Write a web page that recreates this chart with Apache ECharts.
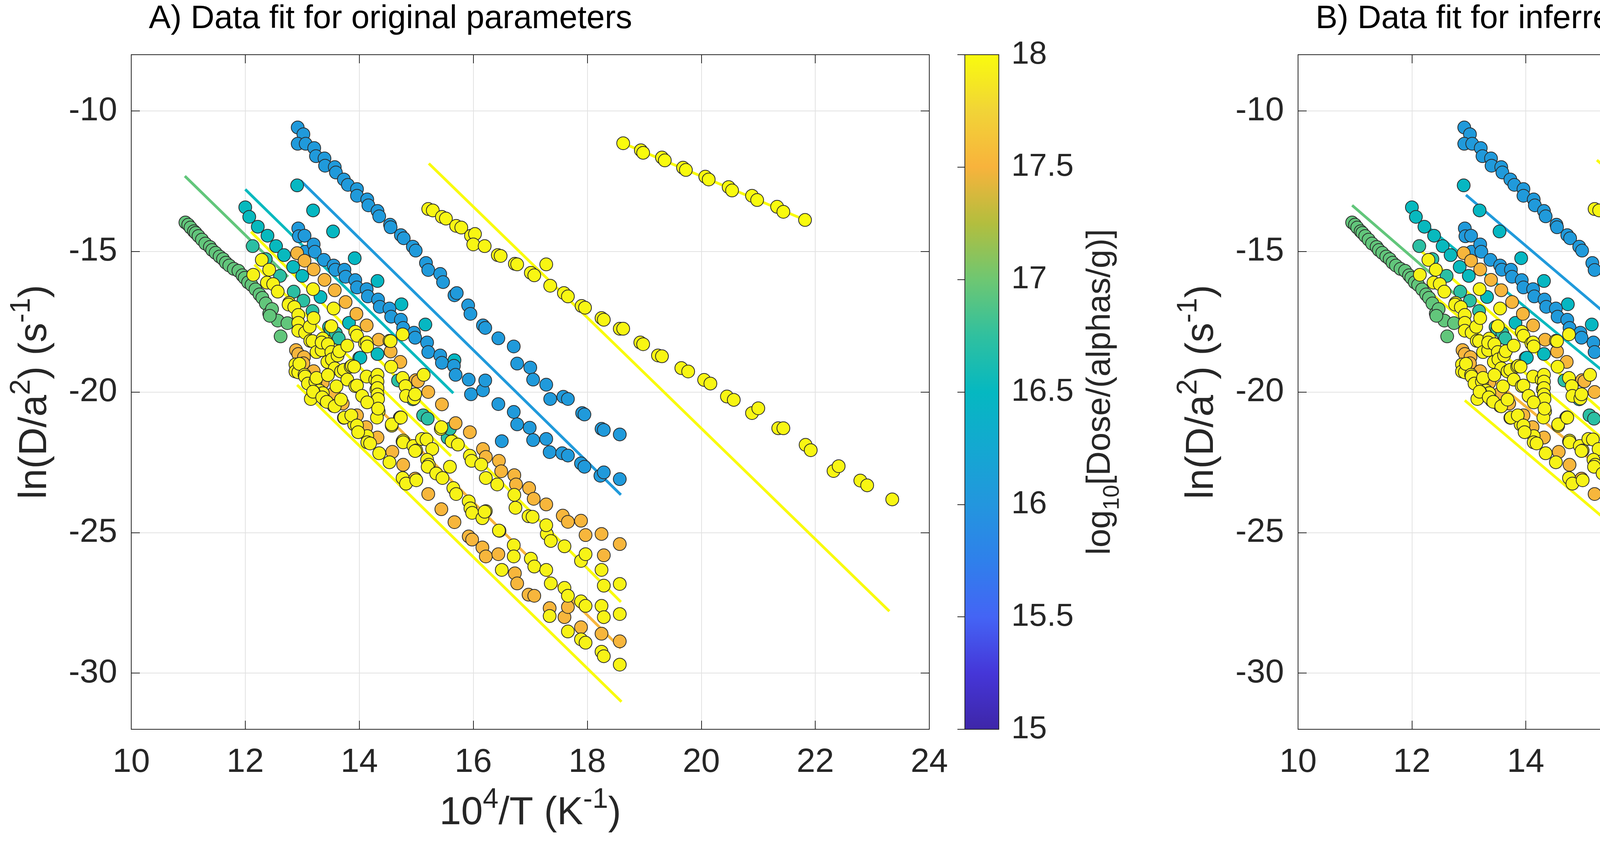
<!DOCTYPE html>
<html><head><meta charset="utf-8">
<script src="https://cdn.jsdelivr.net/npm/echarts@6/dist/echarts.min.js"></script>
<style>html,body{margin:0;padding:0;background:#fff}#c{width:5894px;height:2176px}</style>
</head><body><div id="c"></div>
<script>
// ---------------- DATA ----------------
const xMin = 10, xMax = 24, xStep = 2;
const yMin = -32, yMax = -8;
const cbMin = 15, cbMax = 18, cbStep = 0.5;
const panelTitles = ['A) Data fit for original parameters', 'B) Data fit for inferred parameters'];

// colour map stops (parula-like) from 15 to 18, every 0.25
const cmapStops = ['#3E26A8','#4536D8','#4464F5','#2F80EB','#2396DE','#14A8D1','#05B8C1','#30C09F','#6EC772','#B3BE3E','#F8B33C','#F1D437','#F9FB0E'];

// dose (log10) of each sample chain
const doseGreen = 16.95, doseGreenTeal = 16.72, doseTeal = 16.52, doseTealSparse = 16.48;
const doseBlue = 16.05, doseOrange = 17.52, doseYellow = 17.95, doseYellowTop = 18.0, doseYellowLong = 17.97;

const greenPts = [[10.95,-13.97],[11.00,-14.05],[11.04,-14.15],[11.10,-14.28],[11.13,-14.34],[11.18,-14.45],[11.24,-14.58],[11.30,-14.72],[11.38,-14.84],[11.42,-14.95],[11.48,-15.05],[11.55,-15.18],[11.61,-15.27],[11.66,-15.40],[11.72,-15.50],[11.80,-15.62],[11.88,-15.69],[11.95,-15.85],[11.99,-15.94],[12.05,-16.10],[12.11,-16.19],[12.18,-16.35],[12.25,-16.53],[12.30,-16.65],[12.36,-16.85],[12.42,-17.21],[12.47,-17.05],[12.57,-17.46],[12.62,-18.02],[12.74,-17.55],[12.43,-17.29]];
const greenTealPts = [[12.13,-14.81],[12.36,-15.27],[12.61,-15.87],[12.85,-16.43],[13.02,-16.75],[13.18,-17.12],[13.47,-17.69],[13.50,-17.77],[13.59,-17.91],[13.64,-18.09],[14.00,-18.79],[14.68,-19.59],[14.94,-20.26],[15.12,-20.83],[15.20,-20.95],[15.55,-21.63],[15.59,-21.31]];
const tealPts = [[12.00,-13.43],[12.07,-13.77],[12.22,-14.12],[12.39,-14.44],[12.54,-14.81],[12.68,-15.13],[12.84,-15.55],[13.00,-15.87],[13.32,-16.62],[13.82,-17.54],[14.02,-18.78],[14.32,-18.65]];
const tealSparsePts = [[12.91,-12.65],[13.19,-13.54],[13.54,-14.29],[13.92,-15.24],[14.32,-16.05],[14.74,-16.88],[15.16,-17.60],[15.67,-18.87]];
const blueUpperPts = [[12.92,-10.59],[13.02,-10.83],[12.92,-11.17],[13.06,-11.17],[13.21,-11.32],[13.24,-11.61],[13.39,-11.69],[13.40,-11.95],[13.57,-12.00],[13.59,-12.19],[13.73,-12.44],[13.80,-12.63],[13.96,-12.78],[13.96,-13.02],[14.14,-13.15],[14.16,-13.36],[14.32,-13.56],[14.35,-13.75],[14.54,-14.05],[14.55,-14.14],[14.73,-14.42],[14.78,-14.53],[14.94,-14.83],[14.99,-14.97],[15.17,-15.41],[15.21,-15.66],[15.42,-15.80],[15.47,-16.09],[15.67,-16.56],[15.71,-16.48],[15.91,-16.92],[15.95,-17.22],[16.17,-17.63],[16.21,-17.72],[16.44,-18.09],[16.71,-18.38],[16.77,-18.99],[17.00,-19.13],[17.05,-19.56],[17.28,-19.74],[17.35,-20.25],[17.58,-20.17],[17.66,-20.25],[17.91,-20.75],[17.95,-20.80],[18.25,-21.31],[18.29,-21.35],[18.57,-21.51]];
const blueLowerPts = [[12.93,-14.18],[12.94,-14.46],[13.04,-14.44],[13.05,-15.01],[13.20,-14.75],[13.22,-15.01],[13.38,-15.30],[13.55,-15.50],[13.58,-15.65],[13.74,-15.65],[13.76,-15.90],[13.93,-16.02],[13.96,-16.28],[14.13,-16.34],[14.15,-16.60],[14.33,-16.71],[14.36,-16.97],[14.53,-17.03],[14.56,-17.32],[14.73,-17.43],[14.77,-17.72],[14.96,-17.89],[14.98,-18.07],[15.19,-18.24],[15.21,-18.58],[15.42,-18.70],[15.45,-18.96],[15.66,-19.07],[15.69,-19.39],[15.92,-19.56],[15.96,-20.08],[16.17,-19.94],[16.21,-19.59],[16.44,-20.43],[16.50,-21.75],[16.71,-20.71],[16.77,-21.15],[16.99,-21.27],[17.05,-21.71],[17.28,-21.67],[17.34,-22.14],[17.56,-22.18],[17.66,-22.26],[17.89,-22.54],[17.95,-22.66],[18.23,-22.98],[18.29,-22.86],[18.57,-23.10]];
const orangeUpperPts = [[12.91,-15.06],[13.04,-15.33],[13.20,-15.64],[13.39,-16.01],[13.57,-16.38],[13.76,-16.80],[13.95,-17.22],[14.13,-17.63],[14.34,-18.14],[14.55,-18.56],[14.72,-18.93],[14.99,-19.58],[15.03,-19.62],[15.21,-20.00],[15.45,-20.44],[15.69,-21.11],[15.94,-21.43],[16.17,-22.03],[16.22,-22.31],[16.45,-22.45],[16.49,-22.82],[16.72,-22.96],[16.75,-23.29],[16.98,-23.42],[17.06,-23.80],[17.28,-24.00],[17.57,-24.40],[17.66,-24.62],[17.89,-24.58],[17.97,-25.09],[18.25,-25.05],[18.29,-25.81],[18.57,-25.41]];
const orangeLowerPts = [[12.89,-18.51],[12.93,-18.65],[13.03,-18.76],[13.02,-18.98],[13.20,-19.26],[13.36,-19.67],[13.55,-20.04],[13.71,-20.41],[13.96,-20.83],[14.12,-21.25],[14.32,-21.62],[14.58,-22.13],[14.77,-22.59],[14.98,-23.08],[15.21,-23.63],[15.44,-24.17],[15.67,-24.63],[15.92,-25.14],[15.98,-25.25],[16.16,-25.53],[16.22,-25.85],[16.44,-25.77],[16.73,-26.45],[16.77,-26.81],[16.97,-27.21],[17.07,-27.25],[17.34,-27.69],[17.60,-28.01],[17.66,-27.65],[17.89,-28.37],[18.25,-28.60],[18.57,-28.87]];
const yellowCloudPts = [[12.14,-15.83],[12.29,-15.30],[12.42,-15.65],[12.38,-16.11],[12.49,-16.16],[12.57,-16.43],[12.77,-16.83],[12.76,-16.89],[12.86,-16.98],[12.93,-17.26],[12.93,-17.54],[12.93,-17.82],[13.05,-17.89],[13.13,-17.68],[13.14,-18.18],[13.19,-16.34],[13.20,-17.37],[13.18,-18.19],[13.25,-18.58],[13.36,-18.10],[13.34,-18.51],[13.34,-18.24],[13.44,-18.93],[13.45,-18.30],[13.51,-18.58],[13.51,-17.66],[13.55,-17.03],[13.52,-18.84],[13.57,-19.16],[13.62,-18.70],[13.65,-18.55],[13.68,-19.27],[13.73,-19.21],[13.79,-19.56],[13.79,-18.35],[13.85,-19.10],[13.87,-19.07],[13.93,-19.79],[13.96,-19.77],[13.93,-17.86],[13.96,-18.00],[14.05,-20.14],[14.10,-18.27],[14.13,-18.24],[14.14,-18.38],[14.13,-19.45],[13.91,-19.10],[14.28,-19.56],[14.30,-19.91],[14.32,-19.39],[14.32,-19.63],[14.32,-19.86],[14.32,-20.09],[14.33,-20.25],[14.14,-20.37],[14.34,-20.69],[14.53,-18.18],[14.55,-18.19],[14.56,-19.10],[14.57,-21.20],[14.71,-20.92],[14.72,-20.90],[14.76,-17.95],[14.76,-19.50],[14.76,-21.76],[14.77,-21.73],[14.81,-19.79],[14.82,-20.14],[14.96,-20.23],[14.98,-20.08],[15.13,-19.39],[14.14,-21.57],[12.88,-19.02],[12.88,-19.27],[12.93,-19.30],[12.95,-19.00],[13.04,-19.39],[13.05,-19.45],[13.10,-19.70],[13.23,-19.63],[13.25,-19.50],[13.30,-19.95],[13.36,-20.04],[13.40,-20.30],[13.20,-20.00],[13.15,-20.25],[13.45,-19.40],[13.60,-19.80],[13.55,-20.50],[13.73,-20.92],[13.91,-21.15],
[13.19,-19.99],[13.35,-20.19],[13.43,-20.35],[13.57,-20.51],[13.68,-20.27],[13.74,-20.91],[13.86,-20.83],[13.96,-21.19],[13.98,-21.43],[14.14,-21.79],[14.19,-21.83],[14.31,-20.91],[14.33,-20.59],[14.35,-22.18],[14.53,-22.50],[14.57,-21.15],[14.73,-20.91],[14.77,-21.79],[14.76,-23.06],[14.82,-23.26],[14.95,-21.92],[15.00,-22.08],[14.98,-22.10],[15.00,-23.14],[15.10,-21.67],[15.18,-21.69],[15.28,-22.03],[15.19,-22.41],[15.22,-22.59],[15.20,-22.66],[15.35,-22.90],[15.43,-21.31],[15.44,-21.25],[15.46,-23.06],[15.59,-22.66],[15.62,-21.76],[15.65,-23.42],[15.70,-23.63],[15.73,-21.87],[15.92,-23.89],[15.95,-24.14],[15.98,-24.30],[15.94,-22.27],[15.97,-22.45],[16.14,-22.58],[16.22,-23.06],[16.22,-24.24],[16.16,-24.49],[16.20,-24.26],[16.42,-23.29],[16.46,-24.94],[16.45,-24.93],[16.50,-26.33],[16.71,-25.45],[16.71,-25.85],[16.72,-23.66],[16.74,-24.12],[16.97,-24.42],[17.01,-25.93],[17.04,-24.44],[17.07,-26.21],[17.28,-26.33],[17.29,-25.05],[17.36,-26.81],[17.34,-27.97],[17.36,-25.30],[17.28,-24.74],[17.60,-25.49],[17.60,-26.97],[17.66,-27.25],[17.66,-28.52],[17.89,-26.01],[17.89,-27.45],[17.97,-27.61],[17.89,-28.80],[17.97,-28.92],[17.97,-25.77],[18.25,-26.33],[18.29,-26.89],[18.25,-27.61],[18.29,-28.01],[18.25,-29.24],[18.29,-29.40],[18.57,-26.83],[18.57,-27.90],[18.57,-29.70]];
const yellowTopPts = [[18.63,-11.15],[18.94,-11.40],[18.98,-11.49],[19.31,-11.66],[19.36,-11.76],[19.68,-12.02],[19.73,-12.10],[20.07,-12.34],[20.13,-12.44],[20.48,-12.71],[20.54,-12.83],[20.89,-13.02],[20.98,-13.17],[21.33,-13.41],[21.44,-13.59],[21.82,-13.88]];
const yellowLongPts = [[15.21,-13.49],[15.29,-13.54],[15.45,-13.77],[15.52,-13.83],[15.70,-14.09],[15.79,-14.15],[15.96,-14.44],[16.03,-14.38],[16.00,-14.75],[16.20,-14.81],[16.43,-15.13],[16.48,-15.16],[16.73,-15.44],[16.77,-15.46],[17.01,-15.76],[17.07,-15.85],[17.28,-15.46],[17.35,-16.22],[17.59,-16.48],[17.66,-16.60],[17.90,-16.94],[17.96,-17.00],[18.25,-17.37],[18.29,-17.43],[18.57,-17.75],[18.63,-17.75],[18.93,-18.24],[18.98,-18.30],[19.24,-18.70],[19.31,-18.73],[19.65,-19.15],[19.77,-19.27],[20.05,-19.57],[20.16,-19.70],[20.45,-20.16],[20.57,-20.28],[20.89,-20.75],[21.00,-20.58],[21.35,-21.29],[21.44,-21.29],[21.83,-21.88],[21.92,-22.07],[22.32,-22.81],[22.41,-22.64],[22.79,-23.15],[22.91,-23.32],[23.35,-23.82]];

const chainPts = [greenPts, greenTealPts, tealPts, tealSparsePts, blueUpperPts, blueLowerPts, orangeUpperPts, orangeLowerPts, yellowCloudPts, yellowTopPts, yellowLongPts];
const chainDose = [doseGreen, doseGreenTeal, doseTeal, doseTealSparse, doseBlue, doseBlue, doseOrange, doseOrange, doseYellow, doseYellowTop, doseYellowLong];

// model fit lines: [x1, y1, x2, y2, dose]
const fitLinesA = [[10.94,-12.32,12.75,-15.90,16.95],[12.00,-12.79,15.65,-20.04,16.52],[12.97,-12.48,18.59,-23.66,16.05],[15.22,-11.87,23.30,-27.80,18.0],[18.63,-11.15,21.82,-13.88,18.0],[12.16,-15.47,15.61,-22.28,18.0],[12.10,-14.30,18.59,-27.47,18.0],[12.90,-17.70,18.59,-29.12,17.52],[12.91,-19.75,18.60,-31.02,18.0]];
const fitLinesB = [[10.95,-13.36,12.75,-16.51,16.95],[12.18,-13.96,15.69,-19.81,16.52],[12.95,-12.99,18.59,-22.69,16.05],[15.25,-11.75,23.37,-25.68,18.0],[18.65,-11.13,21.85,-13.85,18.0],[12.16,-16.18,15.62,-22.12,18.0],[12.16,-14.98,18.59,-26.49,18.0],[12.90,-18.69,18.46,-27.92,17.52],[12.93,-20.30,18.59,-30.00,18.0]];
const fitLines = [fitLinesA, fitLinesB];

// ---------------- STYLE / LAYOUT ----------------
const FONT = '"Liberation Sans", Arial, Helvetica, sans-serif';
const AX = '#262626';
const panelLeft = [336, 3323], panelWidth = [2043, 2040];
const cbLeft = [2470, 5457];
const top0 = 140, plotH = 1727;

function hex2rgb(h){return [parseInt(h.substr(1,2),16),parseInt(h.substr(3,2),16),parseInt(h.substr(5,2),16)];}
function parula(v){
  const n = cmapStops.length;
  let t = (v - cbMin) / (cbMax - cbMin); t = Math.max(0, Math.min(1, t)) * (n - 1);
  const i = Math.min(n - 2, Math.floor(t)), f = t - i;
  const a = hex2rgb(cmapStops[i]), b = hex2rgb(cmapStops[i+1]);
  const c = a.map((x, k) => Math.round(x + (b[k] - x) * f));
  return 'rgb(' + c.join(',') + ')';
}

const axisRich = {
  n:{fontSize:100, lineHeight:140, verticalAlign:'middle', fontFamily:FONT, color:AX},
  sup:{fontSize:72, lineHeight:68, verticalAlign:'top', fontFamily:FONT, color:AX}
};
const cbRich = {
  m:{fontSize:86, lineHeight:120, verticalAlign:'middle', fontFamily:FONT, color:AX},
  sub:{fontSize:58, lineHeight:58, verticalAlign:'bottom', fontFamily:FONT, color:AX}
};

const grids = [], xAxes = [], yAxes = [], series = [], titles = [];

for (let k = 0; k < 2; k++) {
  const g = grids.length;
  grids.push({left:panelLeft[k], top:top0, width:panelWidth[k], height:plotH, outerBoundsMode:'none', containLabel:false});
  grids.push({left:cbLeft[k], top:top0, width:87, height:plotH, outerBoundsMode:'none', containLabel:false});
  titles.push({text:panelTitles[k], left:panelLeft[k] + 40, top:2, textStyle:{fontSize:84, fontWeight:'normal', color:'#000', fontFamily:FONT}});

  const xi = xAxes.length, yi = yAxes.length;
  xAxes.push({type:'value', gridIndex:g, min:xMin, max:xMax, interval:xStep, position:'bottom',
    axisLine:{show:true, onZero:false, lineStyle:{color:AX, width:2}},
    axisTick:{show:true, inside:true, length:22, lineStyle:{color:AX, width:2}},
    axisLabel:{fontSize:86, color:AX, margin:42, fontFamily:FONT},
    splitLine:{show:true, lineStyle:{color:'#E2E2E2', width:2}},
    name:'{n|10}{sup|4}{n|/T (K}{sup|-1}{n|)}', nameLocation:'middle', nameGap:145,
    nameTextStyle:{fontSize:100, color:AX, fontFamily:FONT, rich:axisRich}});
  xAxes.push({type:'value', gridIndex:g, min:xMin, max:xMax, interval:xStep, position:'top',
    axisLine:{show:true, onZero:false, lineStyle:{color:AX, width:2}},
    axisTick:{show:true, inside:true, length:22, lineStyle:{color:AX, width:2}},
    axisLabel:{show:false}, splitLine:{show:false}});
  xAxes.push({type:'value', gridIndex:g+1, min:0, max:1, show:false});
  yAxes.push({type:'value', gridIndex:g, min:yMin, max:yMax, position:'left',
    axisLine:{show:true, onZero:false, lineStyle:{color:AX, width:2}},
    axisTick:{show:true, inside:true, length:22, lineStyle:{color:AX, width:2}},
    axisLabel:{fontSize:86, color:AX, margin:36, fontFamily:FONT, showMinLabel:false, showMaxLabel:false},
    splitLine:{show:true, lineStyle:{color:'#E2E2E2', width:2}},
    name:'{n|ln(D/a}{sup|2}{n|) (s}{sup|-1}{n|)}', nameLocation:'middle', nameGap:176, nameRotate:90,
    nameTextStyle:{fontSize:100, color:AX, fontFamily:FONT, rich:axisRich}});
  yAxes.push({type:'value', gridIndex:g, min:yMin, max:yMax, position:'right',
    axisLine:{show:true, onZero:false, lineStyle:{color:AX, width:2}},
    axisTick:{show:true, inside:true, length:22, lineStyle:{color:AX, width:2}},
    axisLabel:{show:false}, splitLine:{show:false}});
  yAxes.push({type:'value', gridIndex:g+1, min:cbMin, max:cbMax, interval:cbStep, position:'right',
    axisLine:{show:false},
    axisTick:{show:true, inside:true, length:19, lineStyle:{color:AX, width:2}},
    axisLabel:{fontSize:82, color:AX, margin:32, fontFamily:FONT},
    splitLine:{show:false},
    name:'{m|log}{sub|10}{m|[Dose/(alphas/g)]}', nameLocation:'middle', nameGap:200, nameRotate:90,
    nameTextStyle:{fontSize:86, color:AX, fontFamily:FONT, rich:cbRich}});

  fitLines[k].forEach(l => {
    series.push({type:'line', xAxisIndex:xi, yAxisIndex:yi, data:[[l[0],l[1]],[l[2],l[3]]],
      symbol:'none', silent:true, z:2, lineStyle:{color:parula(l[4]), width:7}});
  });
  chainPts.forEach((pts, ci) => {
    series.push({type:'scatter', xAxisIndex:xi, yAxisIndex:yi, z:3,
      data: pts.map(p => [p[0], p[1], chainDose[ci]]),
      symbol:'circle', symbolSize:33,
      itemStyle:{color: p => parula(p.value[2]), borderColor:'#2b2b2b', borderWidth:2, opacity:1}});
  });
  const stops = cmapStops.map((c, i) => ({offset: i / (cmapStops.length - 1), color: c}));
  series.push({type:'custom', xAxisIndex:xi+2, yAxisIndex:yi+2, silent:true, clip:false,
    data:[[0, cbMin, 1, cbMax]],
    renderItem:(params, api) => {
      const a = api.coord([api.value(0), api.value(3)]);
      const b = api.coord([api.value(2), api.value(1)]);
      return {type:'rect', shape:{x:a[0], y:a[1], width:b[0]-a[0], height:b[1]-a[1]},
        style:{fill:new echarts.graphic.LinearGradient(0,1,0,0,stops), stroke:AX, lineWidth:2}};
    }});
}

const chart = echarts.init(document.getElementById('c'), null, {renderer:'canvas'});
chart.setOption({
  animation:false, backgroundColor:'#ffffff',
  textStyle:{fontFamily:FONT},
  title:titles, grid:grids, xAxis:xAxes, yAxis:yAxes, series:series
});
</script></body></html>
